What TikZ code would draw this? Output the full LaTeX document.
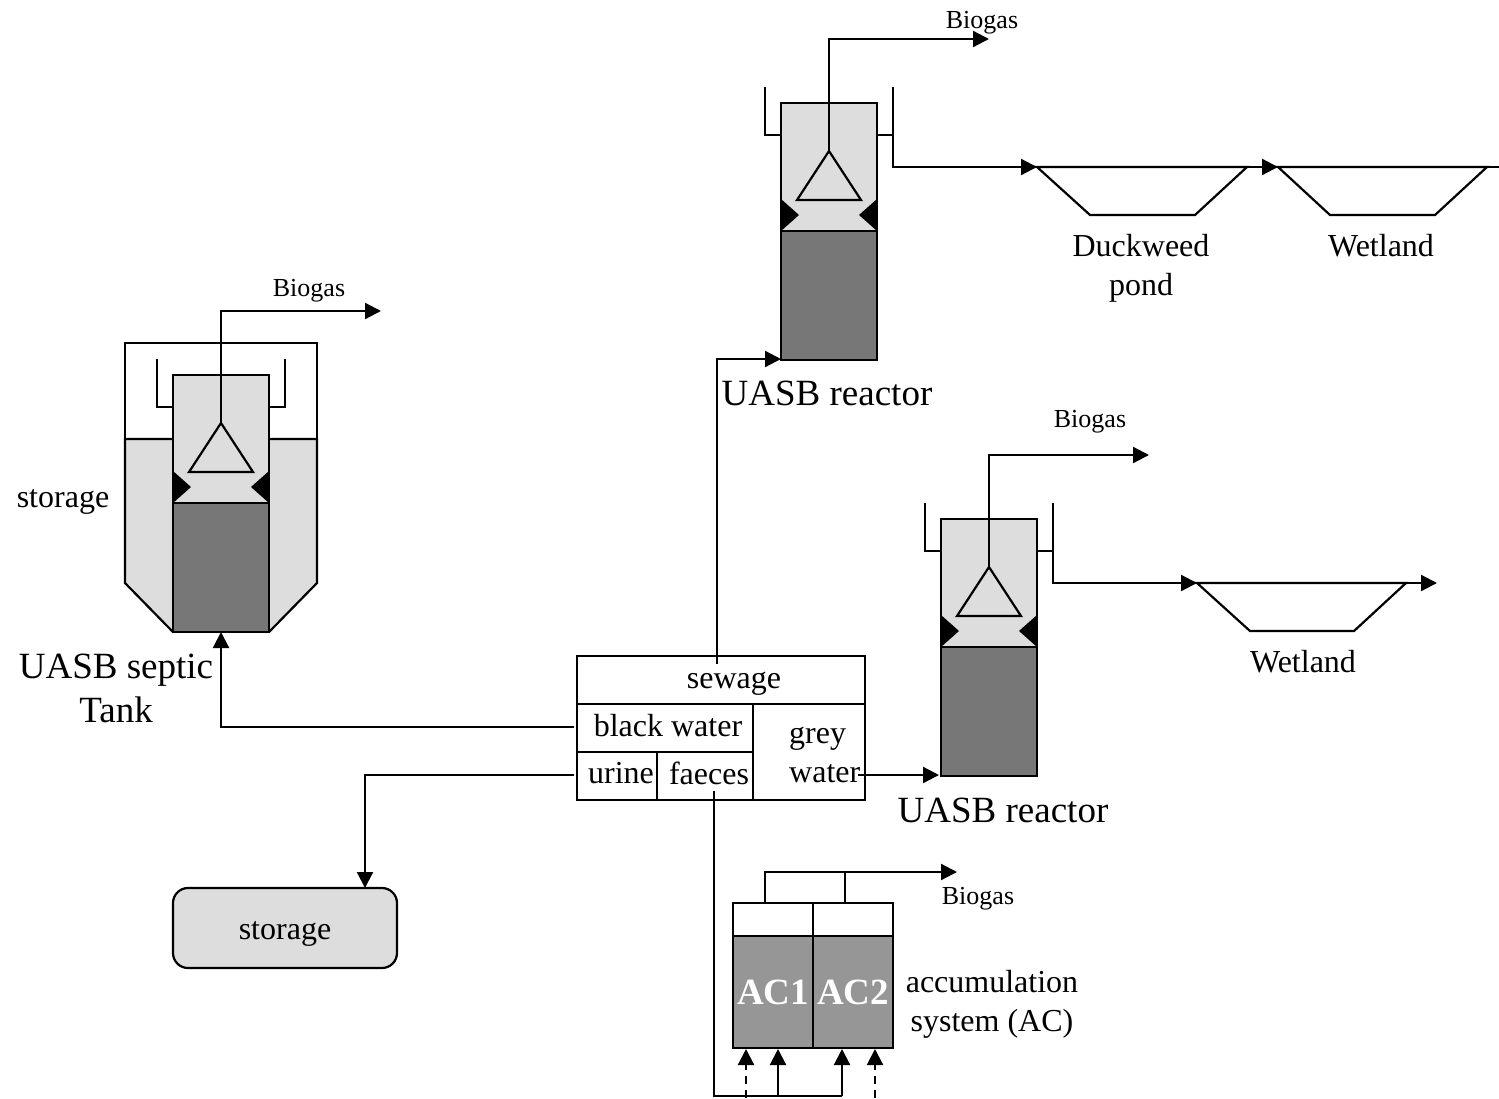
\documentclass[tikz,border=0pt]{standalone}
\usepackage{fontspec}
\setmainfont{Liberation Serif}
\usetikzlibrary{arrows.meta}
\definecolor{lightfill}{HTML}{DDDDDD}
\definecolor{darkfill}{HTML}{777777}
\definecolor{acfill}{HTML}{969696}
\tikzset{
  line/.style={line width=2.2pt,line join=miter},
  flow/.style={line,-{Triangle[length=16pt,width=16pt]}},
  shell/.style={draw,line,outer sep=0pt,inner sep=0pt},
  txt/.style={inner sep=0pt,align=center,text=black},
  small/.style={txt,font=\fontsize{26}{30}\selectfont},
  mid/.style={txt,font=\fontsize{32}{39}\selectfont},
  big/.style={txt,font=\fontsize{37}{44}\selectfont},
  acl/.style={txt,text=white,font=\fontsize{37}{40}\selectfont\bfseries},
}
% reactor: #1 = node prefix, (#2,#3) = top-left corner of the column
\newcommand{\reactor}[3]{%
  \begin{scope}[shift={(#2,#3)}]
    \fill[lightfill] (0,0) rectangle (96,128);
    \fill[darkfill] (0,128) rectangle (96,257);
    \fill[black] (0,96) -- (18,112) -- (0,128) -- cycle;
    \fill[black] (96,96) -- (78,112) -- (96,128) -- cycle;
    \draw[line] (0,128) -- (96,128);
    \node[shell,minimum width=96pt,minimum height=257pt,anchor=north west] (#1) at (0,0) {};
    \coordinate (#1apex) at (48,48);
    \coordinate (#1lb) at (16,97);
    \coordinate (#1rb) at (80,97);
    \draw[line] (#1apex) -- (#1lb) -- (#1rb) -- cycle;
    \coordinate (#1ll) at (-16,32);
    \coordinate (#1lr) at (112,32);
    \draw[line] (-16,-16) -- (#1ll) -- (0,32);
    \draw[line] (112,-16) -- (#1lr) -- (96,32);
  \end{scope}}
\begin{document}
\begin{tikzpicture}[x=1pt,y=-1pt]
\useasboundingbox (0,0) rectangle (1499,1098);
\fill[white] (0,0) rectangle (1499,1098);

% septic tank outer body
\fill[lightfill] (125,439) -- (125,583) -- (173,632) -- (269,632) -- (317,583) -- (317,439) -- cycle;
\draw[line] (125,439) -- (125,343) -- (317,343) -- (317,439);
\draw[line] (173,439) -- (125,439) -- (125,583) -- (173,632);
\draw[line] (269,439) -- (317,439) -- (317,583) -- (269,632);

\reactor{top}{781}{103}
\reactor{mid}{941}{519}
\reactor{sep}{173}{375}

% coordinates of free ends
\coordinate (gasA) at (381,311);
\coordinate (gasB) at (989,39);
\coordinate (gasC) at (1149,455);
\coordinate (gasD) at (957,872);

% gas pipes
\draw[flow] (sepapex) -- (221,311) -- (gasA);
\draw[flow] (topapex) -- (829,39) -- (gasB);
\draw[flow] (midapex) -- (989,455) -- (gasC);

% ponds
\coordinate (pa1) at (1037,167); \coordinate (pa2) at (1247,167);
\coordinate (pb1) at (1278,167); \coordinate (pb2) at (1487,167);
\coordinate (pc1) at (1197,583); \coordinate (pc2) at (1406,583);
\coordinate (pbout) at (1499,167);
\coordinate (pcout) at (1437,583);
\draw[line] (pa1) -- (1090,215) -- (1195,215) -- (pa2) -- cycle;
\draw[line] (pb1) -- (1330,215) -- (1435,215) -- (pb2) -- cycle;
\draw[line] (pc1) -- (1250,631) -- (1354,631) -- (pc2) -- cycle;
\draw[flow] (toplr) -- (893,167) -- (pa1);
\draw[flow] (pa2) -- (pb1);
\draw[line] (pb2) -- (pbout);
\draw[flow] (midlr) -- (1053,583) -- (pc1);
\draw[flow] (pc2) -- (pcout);

% sewage box
\node[shell,minimum width=288pt,minimum height=144pt,anchor=north west] (box) at (577,656) {};
\draw[line] (577,704) -- (865,704);
\draw[line] (577,752) -- (753,752);
\draw[line] (753,704) -- (753,800);
\draw[line] (657,752) -- (657,800);
\node[mid] (tsew) at (734,684) {sewage};
\node[mid] (tblack) at (668,726) {black water};
\node[mid] (turine) at (621,773) {urine};
\node[mid] (tfaec) at (709,773) {faeces};
\node[mid,align=left,anchor=west] (tgrey) at (789,755) {grey\\water};

% connector ends at the box
\coordinate (bup) at (717,664);
\coordinate (bbl) at (574,727);
\coordinate (bur) at (574,775);
\coordinate (bgr) at (858,775);
\coordinate (bfa) at (714,791);
\coordinate (topin) at (781,359);
\coordinate (midin) at (939,775);
\coordinate (sepin) at (221,632);
\draw[flow] (bup) -- (717,359) -- (topin);
\draw[flow] (bbl) -- (221,727) -- (sepin);
\draw[flow] (bgr) -- (midin);

% storage
\node[shell,fill=lightfill,rounded corners=15pt,minimum width=224pt,minimum height=80pt] (store) at (285,928) {};
\node[mid] (tstore) at (285,934) {storage};
\coordinate (stin) at (365,888);
\draw[flow] (bur) -- (365,775) -- (stin);

% accumulation system
\fill[acfill] (733,936) rectangle (893,1048);
\node[shell,minimum width=160pt,minimum height=145pt,anchor=north west] (ac) at (733,903) {};
\draw[line] (733,936) -- (893,936);
\draw[line] (813,903) -- (813,1048);
\node[acl] (tac1) at (773,992) {AC1};
\node[acl] (tac2) at (853,992) {AC2};
\draw[line] (845,903) -- (845,872);
\draw[flow] (765,903) -- (765,872) -- (gasD);
\coordinate (in1) at (746,1049); \coordinate (in2) at (778,1049);
\coordinate (in3) at (842,1049); \coordinate (in4) at (875,1049);
\coordinate (bot) at (714,1096);
\draw[line] (bfa) -- (bot) -- (842,1096);
\draw[flow] (778,1096) -- (in2);
\draw[flow] (842,1096) -- (in3);
\draw[flow,dashed,dash pattern=on 8pt off 6pt] (746,1098) -- (in1);
\draw[flow,dashed,dash pattern=on 8pt off 6pt] (875,1098) -- (in4);

% labels
\node[small] (lg1) at (982,23) {Biogas};
\node[small] (lg2) at (309,291) {Biogas};
\node[small] (lg3) at (1090,422) {Biogas};
\node[small] (lg4) at (978,899) {Biogas};
\node[mid] (lduck) at (1141,268) {Duckweed\\pond};
\node[mid] (lw1) at (1381,246) {Wetland};
\node[mid] (lw2) at (1303,662) {Wetland};
\node[big] (lr1) at (827,393) {UASB reactor};
\node[big] (lr2) at (1003,810) {UASB reactor};
\node[big] (lsep) at (116,688) {UASB septic\\Tank};
\node[mid] (lst) at (63,502) {storage};
\node[mid] (lac) at (992,1004) {accumulation\\system (AC)};
\end{tikzpicture}
\end{document}
